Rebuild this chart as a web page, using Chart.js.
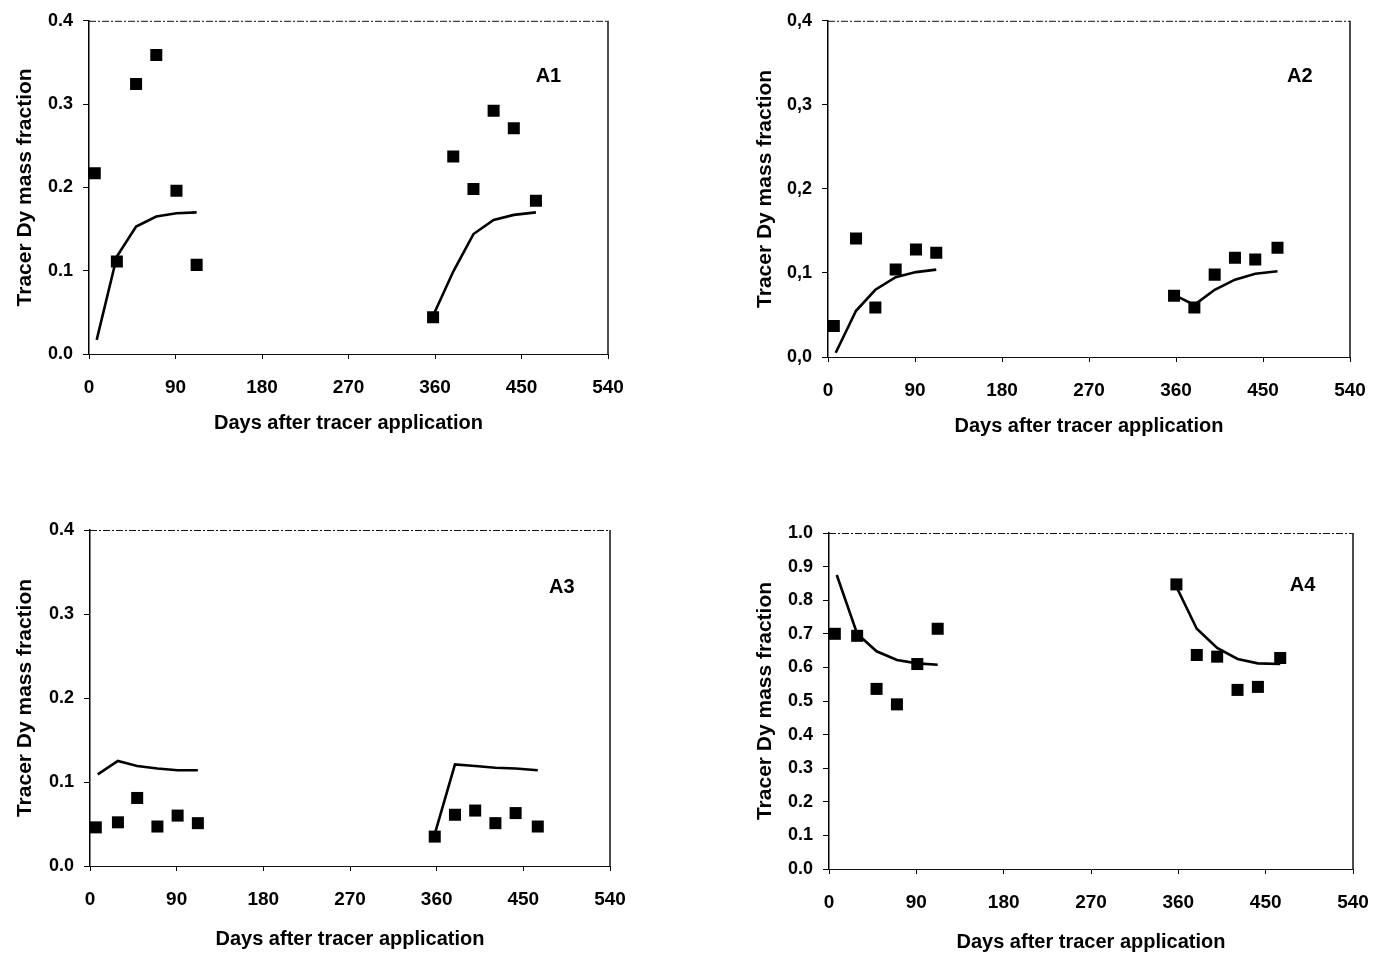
<!DOCTYPE html>
<html>
<head>
<meta charset="utf-8">
<script src="https://cdn.jsdelivr.net/npm/chart.js@4.4.1/dist/chart.umd.min.js"></script>
<style>
  body { margin: 0; background: #fff; width: 1376px; height: 956px; position: relative; overflow: hidden; }
  .panel { position: absolute; }
</style>
</head>
<body>
<div class="panel" style="left:0px;top:0px"><canvas id="a1" width="700" height="460"></canvas></div>
<div class="panel" style="left:740px;top:0px"><canvas id="a2" width="636" height="460"></canvas></div>
<div class="panel" style="left:0px;top:490px"><canvas id="a3" width="700" height="466"></canvas></div>
<div class="panel" style="left:740px;top:490px"><canvas id="a4" width="636" height="466"></canvas></div>
<script>
// sampling days (two seasons) and model days
var sampleDays = [6, 29, 49, 70, 91, 112, 358, 379, 400, 421, 442, 465];
var modelDays = [8, 29, 49, 70, 91, 112, 358, 379, 400, 421, 442, 465];
var xTickLabels = ["0", "90", "180", "270", "360", "450", "540"];

// measured tracer Dy mass fraction
var a1Obs = [0.217, 0.111, 0.324, 0.359, 0.196, 0.107, 0.044, 0.237, 0.198, 0.292, 0.271, 0.184];
var a2Obs = [0.037, 0.141, 0.059, 0.104, 0.128, 0.124, 0.073, 0.059, 0.098, 0.118, 0.116, 0.130];
var a3Obs = [0.046, 0.052, 0.081, 0.047, 0.060, 0.051, 0.035, 0.061, 0.066, 0.051, 0.063, 0.047];
var a4Obs = [0.700, 0.694, 0.536, 0.490, 0.610, 0.715, 0.847, 0.637, 0.632, 0.533, 0.542, 0.628];

// simulated
var a1Model = [0.017, 0.117, 0.153, 0.165, 0.169, 0.170, 0.046, 0.099, 0.144, 0.161, 0.167, 0.170];
var a2Model = [0.005, 0.055, 0.080, 0.095, 0.101, 0.104, 0.074, 0.062, 0.080, 0.092, 0.099, 0.102];
var a3Model = [0.109, 0.125, 0.119, 0.116, 0.114, 0.114, 0.038, 0.121, 0.119, 0.117, 0.116, 0.114];
var a4Model = [0.875, 0.700, 0.648, 0.622, 0.612, 0.608, 0.840, 0.715, 0.658, 0.625, 0.612, 0.610];

var yLabelsDot = ["0.0", "0.1", "0.2", "0.3", "0.4"];
var yLabelsComma = ["0,0", "0,1", "0,2", "0,3", "0,4"];
var yLabelsA4 = ["0.0", "0.1", "0.2", "0.3", "0.4", "0.5", "0.6", "0.7", "0.8", "0.9", "1.0"];

var FONT = "'Liberation Sans', Arial, sans-serif";

function pts(days, vals) {
  return vals.map(function (v, i) { return { x: days[i], y: v }; });
}

// top and right edges of the plot box + the panel tag
var framePlugin = {
  id: "frame",
  afterDatasetsDraw: function (chart, args, opts) {
    var ctx = chart.ctx, a = chart.chartArea;
    ctx.save();
    ctx.strokeStyle = "#111";
    ctx.lineWidth = 1;
    ctx.setLineDash([7, 2, 2, 2]);
    ctx.beginPath();
    ctx.moveTo(a.left, a.top + 0.5);
    ctx.lineTo(a.right, a.top + 0.5);
    ctx.stroke();
    ctx.setLineDash([]);
    ctx.lineWidth = 1.5;
    ctx.beginPath();
    ctx.moveTo(a.right, a.top);
    ctx.lineTo(a.right, a.bottom);
    ctx.stroke();
    ctx.fillStyle = "#000";
    ctx.font = "bold 20px " + FONT;
    ctx.textAlign = "center";
    ctx.textBaseline = "middle";
    ctx.fillText(opts.tag, chart.scales.x.getPixelForValue(opts.tagX), chart.scales.y.getPixelForValue(opts.tagY));
    ctx.restore();
  }
};

function makePanel(id, p) {
  var ctx = document.getElementById(id).getContext("2d");
  return new Chart(ctx, {
    type: "scatter",
    data: {
      datasets: [
        {
          type: "line",
          data: pts(modelDays, p.model),
          borderColor: "#000",
          borderWidth: 2.6,
          pointRadius: 0,
          tension: 0,
          segment: {
            // no line between the two seasons
            borderColor: function (c) { return c.p0DataIndex === 5 ? "rgba(0,0,0,0)" : "#000"; }
          },
          order: 2
        },
        {
          data: pts(sampleDays, p.obs),
          pointStyle: "rect",
          pointRadius: 8.5,
          backgroundColor: "#000",
          borderColor: "#000",
          borderWidth: 0,
          order: 1
        }
      ]
    },
    options: {
      responsive: false,
      animation: false,
      events: [],
      layout: { padding: { top: p.padTop, right: p.padRight, left: 0, bottom: 0 } },
      plugins: {
        legend: { display: false },
        tooltip: { enabled: false },
        frame: { tag: p.tag, tagX: p.tagX, tagY: p.tagY }
      },
      scales: {
        x: {
          type: "linear",
          min: 0,
          max: 540,
          afterFit: function (s) {
            s.height = p.xHeight;
            // the layout padding already leaves room for the end labels
            s.paddingLeft = 0;
            s.paddingRight = 0;
          },
          ticks: {
            stepSize: 90,
            color: "#000",
            padding: 17,
            maxRotation: 0,
            font: { family: FONT, size: 19, weight: "bold" },
            callback: function (v, i) { return xTickLabels[i]; }
          },
          grid: { drawOnChartArea: false, tickLength: 5, color: "#000", lineWidth: 1 },
          border: { color: "#111", width: 1, dash: [7, 2, 2, 2] },
          title: {
            display: true,
            text: "Days after tracer application",
            color: "#000",
            font: { family: FONT, size: 20, weight: "bold" },
            padding: { top: 0, bottom: p.xTitlePad }
          }
        },
        y: {
          min: 0,
          max: p.yMax,
          afterFit: function (s) { s.width = p.yWidth; },
          ticks: {
            stepSize: 0.1,
            color: "#000",
            padding: 10,
            font: { family: FONT, size: 18, weight: "bold" },
            callback: function (v, i) { return p.yLabels[i]; }
          },
          grid: { drawOnChartArea: false, tickLength: 6, color: "#000", lineWidth: 1 },
          border: { color: "#000", width: 1.5 },
          title: {
            display: true,
            text: "Tracer Dy mass fraction",
            color: "#000",
            font: { family: FONT, size: 21, weight: "bold" },
            padding: { top: 13, bottom: 0 }
          }
        }
      }
    },
    plugins: [framePlugin]
  });
}

makePanel("a1", { obs: a1Obs, model: a1Model, yMax: 0.4, yLabels: yLabelsDot, tag: "A1", tagX: 478, tagY: 0.333,
  padTop: 15, padRight: 92, yWidth: 89, xHeight: 106, xTitlePad: 25 });
makePanel("a2", { obs: a2Obs, model: a2Model, yMax: 0.4, yLabels: yLabelsComma, tag: "A2", tagX: 488, tagY: 0.334,
  padTop: 16, padRight: 26, yWidth: 88, xHeight: 103, xTitlePad: 22 });
makePanel("a3", { obs: a3Obs, model: a3Model, yMax: 0.4, yLabels: yLabelsDot, tag: "A3", tagX: 490, tagY: 0.331,
  padTop: 40, padRight: 90, yWidth: 90, xHeight: 90, xTitlePad: 5 });
makePanel("a4", { obs: a4Obs, model: a4Model, yMax: 1.0, yLabels: yLabelsA4, tag: "A4", tagX: 488, tagY: 0.845,
  padTop: 43, padRight: 23, yWidth: 89, xHeight: 87, xTitlePad: 2 });
</script>
</body>
</html>
